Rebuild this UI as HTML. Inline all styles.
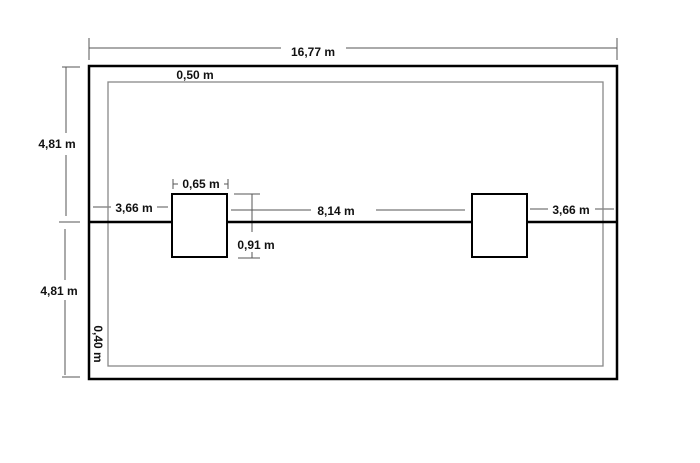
<!DOCTYPE html>
<html><head><style>
body{margin:0;background:#fff}
svg text{font-family:"Liberation Sans",sans-serif;font-weight:bold;font-size:12px;fill:#111}
</style></head><body>
<svg width="700" height="458" viewBox="0 0 700 458" xmlns="http://www.w3.org/2000/svg">
<rect width="700" height="458" fill="#fff"/>
<g stroke="#555" stroke-width="1" fill="none">
<line x1="89" y1="38" x2="89" y2="60"/>
<line x1="617" y1="38" x2="617" y2="60"/>
<line x1="89" y1="48" x2="281" y2="48"/>
<line x1="346" y1="48" x2="617" y2="48"/>
<line x1="66" y1="67" x2="66" y2="133"/>
<line x1="66" y1="155" x2="66" y2="216"/>
<line x1="62" y1="67" x2="80" y2="67"/>
<line x1="59" y1="222" x2="80" y2="222"/>
<line x1="65" y1="229" x2="65" y2="280"/>
<line x1="65" y1="300" x2="65" y2="375"/>
<line x1="62" y1="377" x2="80" y2="377"/>
<line x1="93" y1="207" x2="111" y2="207"/>
<line x1="157" y1="207" x2="168" y2="207"/>
<line x1="173" y1="179" x2="173" y2="189"/>
<line x1="173" y1="184" x2="178" y2="184"/>
<line x1="224" y1="184" x2="228" y2="184"/>
<line x1="228" y1="179" x2="228" y2="189"/>
<line x1="234" y1="194" x2="260" y2="194"/>
<line x1="238" y1="258" x2="260" y2="258"/>
<line x1="252" y1="194" x2="252" y2="232"/>
<line x1="252" y1="252" x2="252" y2="258"/>
<line x1="231" y1="210" x2="311" y2="210"/>
<line x1="376" y1="210" x2="465" y2="210"/>
<line x1="530" y1="209" x2="548" y2="209"/>
<line x1="595" y1="209" x2="614" y2="209"/>
</g>
<rect x="108" y="82" width="495" height="284" fill="none" stroke="#888" stroke-width="1.3"/>
<rect x="89" y="66" width="528" height="313" fill="none" stroke="#000" stroke-width="2.5"/>
<line x1="89" y1="222" x2="617" y2="222" stroke="#000" stroke-width="2.5"/>
<rect x="172" y="194" width="55" height="63" fill="#fff" stroke="#000" stroke-width="2"/>
<rect x="472" y="194" width="55" height="63" fill="#fff" stroke="#000" stroke-width="2"/>
<text x="313" y="56" text-anchor="middle">16,77 m</text>
<text x="195" y="79" text-anchor="middle" font-size="11">0,50 m</text>
<text x="57" y="148" text-anchor="middle">4,81 m</text>
<text x="59" y="295" text-anchor="middle">4,81 m</text>
<text x="134" y="212" text-anchor="middle">3,66 m</text>
<text x="201" y="188" text-anchor="middle">0,65 m</text>
<text x="256" y="249" text-anchor="middle">0,91 m</text>
<text x="336" y="215" text-anchor="middle">8,14 m</text>
<text x="571" y="214" text-anchor="middle">3,66 m</text>
<text x="0" y="0" text-anchor="middle" font-size="11" transform="translate(94,344) rotate(90)">0,40 m</text>
</svg>
</body></html>
